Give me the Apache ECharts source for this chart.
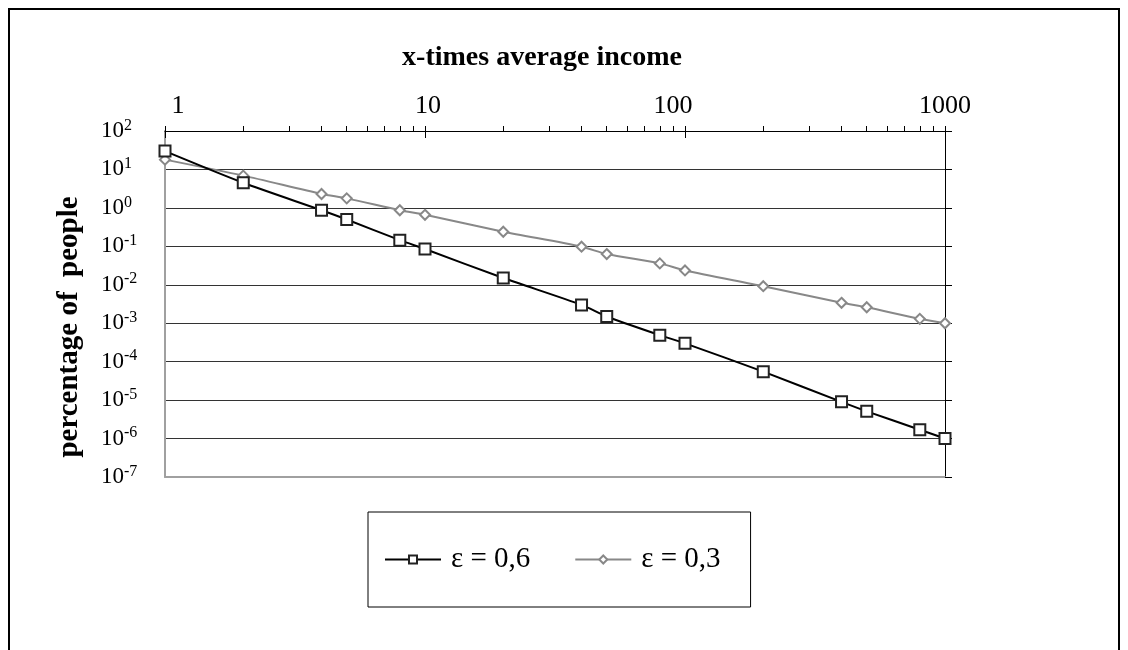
<!DOCTYPE html>
<html>
<head>
<meta charset="utf-8">
<script src="https://cdn.jsdelivr.net/npm/echarts@6/dist/echarts.min.js"></script>
<style>
  html, body { margin: 0; padding: 0; background: #fff; }
  #chart { width: 1128px; height: 650px; }
</style>
</head>
<body>
<div id="chart"></div>
<script>
// ---- data ----
const incomeMultiples = [1, 2, 4, 5, 8, 10, 20, 40, 50, 80, 100, 200, 400, 500, 800, 1000];
const eps06 = [30, 4.5, 0.87, 0.5, 0.145, 0.085, 0.015, 0.003, 0.0015, 0.00049, 0.0003, 5.5e-5, 9e-6, 5.1e-6, 1.7e-6, 1e-6];
const eps03 = [18, 6.9, 2.3, 1.77, 0.87, 0.66, 0.24, 0.098, 0.063, 0.036, 0.0236, 0.0092, 0.0034, 0.0026, 0.0013, 0.001];
const seriesNames = ['ε = 0,6', 'ε = 0,3'];
const xTitle = 'x-times average income';
const yTitle = 'percentage of  people';
const allTickValues = [1,2,3,4,5,6,7,8,9,10,20,30,40,50,60,70,80,90,100,200,300,400,500,600,700,800,900,1000];

const font = 'Liberation Serif';
const pairs = (ys) => incomeMultiples.map((x, i) => [x, ys[i]]);

const xLabelShift = { 1: 'r1', 10: 'r10', 100: 'l100', 1000: 'n' };

const chart = echarts.init(document.getElementById('chart'));
chart.setOption({
  backgroundColor: '#fff',
  animation: false,
  graphic: [{
    type: 'rect',
    shape: { x: 9, y: 9, width: 1110, height: 700 },
    style: { fill: 'none', stroke: '#000', lineWidth: 2 },
    silent: true
  }],
  title: {
    text: xTitle,
    left: 537, top: 39,
    textAlign: 'center',
    textStyle: { fontFamily: font, fontSize: 28, fontWeight: 'bold', color: '#000' }
  },
  grid: { left: 165, right: 183, top: 131, bottom: 173 },
  legend: {
    data: seriesNames,
    left: 368, top: 512,
    orient: 'horizontal',
    padding: [33, 30, 33, 16],
    borderColor: '#000',
    borderWidth: 1,
    itemWidth: 56,
    itemHeight: 10,
    itemGap: 44,
    textStyle: { fontFamily: font, fontSize: 29, color: '#000', padding: [0, 0, 0, 5] }
  },
  xAxis: [
    {
      type: 'log', logBase: 10, min: 1, max: 1000,
      position: 'top',
      axisLine: { show: true, lineStyle: { color: '#000', width: 1 } },
      axisTick: { show: true, inside: true, length: 7, lineStyle: { color: '#000' } },
      splitLine: { show: false },
      axisLabel: {
        show: true, margin: 12,
        fontFamily: font, fontSize: 26, color: '#000',
        formatter: (v) => '{' + xLabelShift[v] + '|' + v + '}',
        rich: {
          r1: { fontFamily: font, fontSize: 26, padding: [0, 0, 0, 26] },
          r10: { fontFamily: font, fontSize: 26, padding: [0, 0, 0, 6] },
          l100: { fontFamily: font, fontSize: 26, padding: [0, 24, 0, 0] },
          n: { fontFamily: font, fontSize: 26 }
        }
      }
    },
    {
      type: 'log', logBase: 10, min: 1, max: 1000,
      position: 'top',
      axisLine: { show: false },
      axisTick: { show: true, inside: false, length: 5, customValues: allTickValues, lineStyle: { color: '#000' } },
      axisLabel: { show: false },
      splitLine: { show: false }
    },
    {
      type: 'log', logBase: 10, min: 1, max: 1000,
      position: 'bottom',
      axisLine: { show: true, lineStyle: { color: '#a0a0a0', width: 2 } },
      axisTick: { show: false },
      axisLabel: { show: false },
      splitLine: { show: false }
    }
  ],
  yAxis: [
    {
      type: 'log', logBase: 10, min: 1e-7, max: 100, interval: 1,
      position: 'left',
      name: yTitle,
      nameLocation: 'middle',
      nameGap: 81,
      nameRotate: 90,
      nameTextStyle: { fontFamily: font, fontSize: 29, fontWeight: 'bold', color: '#000', padding: [0, 46, 0, 0] },
      axisLine: { show: true, lineStyle: { color: '#a0a0a0', width: 2 } },
      axisTick: { show: false },
      splitLine: { show: true, lineStyle: { color: '#333', width: 1 } },
      axisLabel: {
        show: true, margin: 64, align: 'left',
        color: '#000',
        formatter: (v) => '{b|10}{s|' + Math.round(Math.log10(v)) + '}',
        rich: {
          b: { fontFamily: font, fontSize: 23, color: '#000' },
          s: { fontFamily: font, fontSize: 16, color: '#000', verticalAlign: 'top', padding: [0, 0, 11, 0] }
        }
      }
    },
    {
      type: 'log', logBase: 10, min: 1e-7, max: 100, interval: 1,
      position: 'right',
      axisLine: { show: true, lineStyle: { color: '#000', width: 1 } },
      axisTick: { show: true, inside: false, length: 7, lineStyle: { color: '#000' } },
      axisLabel: { show: false },
      splitLine: { show: false }
    }
  ],
  series: [
    {
      name: seriesNames[0],
      type: 'line',
      xAxisIndex: 0, yAxisIndex: 0,
      data: pairs(eps06),
      smooth: 0.25,
      z: 4,
      symbol: 'rect',
      symbolSize: 11,
      lineStyle: { color: '#000', width: 2 },
      itemStyle: { color: '#fff', borderColor: '#222', borderWidth: 2 }
    },
    {
      name: seriesNames[1],
      type: 'line',
      xAxisIndex: 0, yAxisIndex: 0,
      data: pairs(eps03),
      smooth: 0.25,
      z: 3,
      symbol: 'diamond',
      symbolSize: 10,
      lineStyle: { color: '#888', width: 2 },
      itemStyle: { color: '#fff', borderColor: '#888', borderWidth: 2 }
    }
  ]
});
</script>
</body>
</html>
